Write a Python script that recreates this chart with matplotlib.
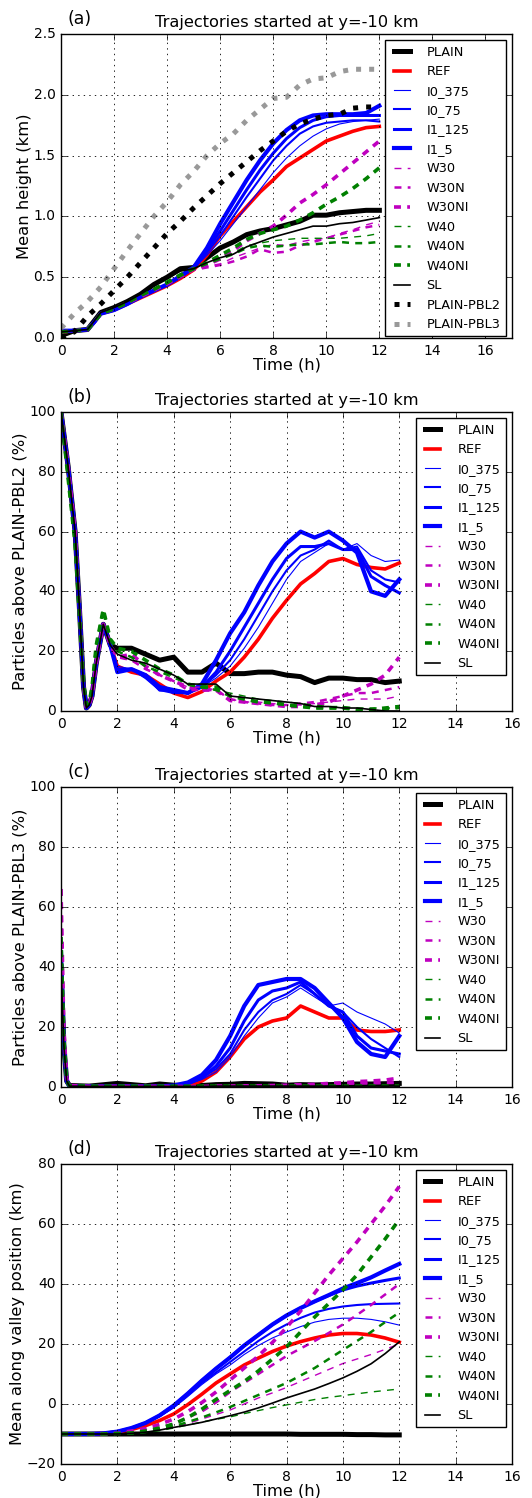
import matplotlib
matplotlib.use('Agg')
import matplotlib.pyplot as plt
import numpy as np

plt.style.use('classic')
plt.rcParams['font.family'] = 'DejaVu Sans'

names = ['PLAIN', 'REF', 'I0_375', 'I0_75', 'I1_125', 'I1_5',
         'W30', 'W30N', 'W30NI', 'W40', 'W40N', 'W40NI', 'SL']

# ---- panel (a): mean height (km)
a_t = [0, 0.5, 1, 1.25, 1.5] + list(np.arange(2, 12.01, 0.5))
a_vals = {
    'PLAIN':  [0.02, 0.06, 0.07, 0.14, 0.21, 0.25, 0.30, 0.36, 0.44, 0.50, 0.57, 0.58, 0.66, 0.74, 0.79, 0.85, 0.88, 0.90, 0.93, 0.96, 1.01, 1.01, 1.03, 1.04, 1.05, 1.05],
    'REF':    [0.05, 0.06, 0.07, 0.13, 0.20, 0.23, 0.28, 0.33, 0.38, 0.43, 0.49, 0.56, 0.68, 0.84, 0.96, 1.08, 1.20, 1.30, 1.41, 1.48, 1.55, 1.62, 1.66, 1.70, 1.73, 1.74],
    'I0_375': [0.05, 0.06, 0.07, 0.13, 0.20, 0.23, 0.28, 0.33, 0.39, 0.43, 0.50, 0.57, 0.68, 0.80, 0.94, 1.08, 1.22, 1.36, 1.48, 1.58, 1.66, 1.72, 1.76, 1.78, 1.79, 1.80],
    'I0_75':  [0.05, 0.06, 0.07, 0.13, 0.20, 0.23, 0.28, 0.33, 0.39, 0.43, 0.50, 0.57, 0.70, 0.84, 1.00, 1.16, 1.31, 1.46, 1.58, 1.68, 1.74, 1.77, 1.78, 1.79, 1.79, 1.78],
    'I1_125': [0.06, 0.06, 0.07, 0.13, 0.20, 0.23, 0.28, 0.34, 0.39, 0.44, 0.50, 0.58, 0.72, 0.88, 1.05, 1.22, 1.38, 1.52, 1.64, 1.73, 1.79, 1.82, 1.83, 1.83, 1.83, 1.83],
    'I1_5':   [0.06, 0.06, 0.07, 0.13, 0.20, 0.23, 0.28, 0.34, 0.39, 0.44, 0.51, 0.58, 0.74, 0.94, 1.12, 1.30, 1.46, 1.60, 1.71, 1.79, 1.83, 1.84, 1.84, 1.84, 1.85, 1.91],
    'W30':    [0.05, 0.06, 0.07, 0.13, 0.20, 0.24, 0.29, 0.34, 0.39, 0.44, 0.50, 0.56, 0.59, 0.61, 0.66, 0.70, 0.74, 0.77, 0.76, 0.79, 0.81, 0.82, 0.86, 0.89, 0.93, 0.96],
    'W30N':   [0.05, 0.06, 0.07, 0.13, 0.20, 0.24, 0.29, 0.34, 0.39, 0.44, 0.50, 0.56, 0.58, 0.60, 0.63, 0.67, 0.73, 0.70, 0.71, 0.76, 0.79, 0.82, 0.85, 0.88, 0.91, 0.93],
    'W30NI':  [0.05, 0.06, 0.07, 0.13, 0.20, 0.24, 0.29, 0.34, 0.40, 0.45, 0.51, 0.57, 0.60, 0.65, 0.72, 0.80, 0.86, 0.92, 1.01, 1.11, 1.18, 1.26, 1.35, 1.44, 1.53, 1.62],
    'W40':    [0.05, 0.06, 0.07, 0.13, 0.20, 0.24, 0.29, 0.35, 0.40, 0.45, 0.51, 0.57, 0.62, 0.66, 0.70, 0.76, 0.78, 0.80, 0.81, 0.82, 0.82, 0.82, 0.82, 0.83, 0.84, 0.86],
    'W40N':   [0.05, 0.06, 0.07, 0.13, 0.20, 0.24, 0.29, 0.35, 0.40, 0.45, 0.51, 0.57, 0.61, 0.65, 0.69, 0.74, 0.76, 0.75, 0.76, 0.77, 0.77, 0.78, 0.79, 0.78, 0.78, 0.79],
    'W40NI':  [0.05, 0.06, 0.07, 0.13, 0.20, 0.24, 0.29, 0.35, 0.40, 0.46, 0.52, 0.57, 0.62, 0.68, 0.74, 0.81, 0.86, 0.89, 0.92, 0.97, 1.03, 1.10, 1.16, 1.23, 1.31, 1.40],
    'SL':     [0.05, 0.06, 0.07, 0.14, 0.21, 0.25, 0.30, 0.36, 0.43, 0.49, 0.55, 0.57, 0.62, 0.66, 0.69, 0.75, 0.79, 0.83, 0.86, 0.89, 0.92, 0.92, 0.94, 0.95, 0.97, 0.99],
    'PLAIN-PBL2': [0.00, 0.05, 0.18, 0.23, 0.28, 0.39, 0.50, 0.62, 0.74, 0.86, 0.96, 1.07, 1.17, 1.27, 1.36, 1.45, 1.54, 1.62, 1.70, 1.76, 1.80, 1.83, 1.84, 1.89, 1.90, 1.90],
    'PLAIN-PBL3': [0.08, 0.20, 0.30, 0.36, 0.42, 0.57, 0.72, 0.86, 1.00, 1.12, 1.26, 1.37, 1.50, 1.60, 1.68, 1.79, 1.88, 1.97, 1.98, 2.08, 2.13, 2.14, 2.19, 2.21, 2.21, 2.21],
}

# ---- panel (b): particles above PLAIN-PBL2 (%)
b_t_early = [0, 0.25, 0.5, 0.65, 0.8, 0.9, 1.0, 1.1, 1.25, 1.5, 1.75]
b_early = [100, 82, 60, 35, 8, 1, 2, 5, 16, 29, 22]
b_early_green = [100, 78, 56, 33, 9, 2, 3, 8, 22, 34, 24]
b_t_late = list(np.arange(2, 12.01, 0.5))
b_late = {
    'PLAIN':  [21, 21, 19, 17, 18, 13, 13, 16, 12.5, 12.5, 13, 13, 12, 11.5, 9.5, 11, 11, 10.5, 10.5, 9.5, 10],
    'REF':    [15, 13, 12, 9, 6, 4.5, 6.5, 10, 13, 18, 24, 31, 37, 42.5, 46, 50, 51, 49, 48, 47.5, 49.5],
    'I0_375': [15, 14, 11, 7, 7, 6, 8, 11, 15, 21, 28, 36, 44, 50, 53, 56, 54, 56, 52, 50, 50.5],
    'I0_75':  [14, 14, 11, 7, 6, 6, 8, 12, 17, 24, 32, 40, 47, 52, 54, 57, 54, 55, 47, 44, 43],
    'I1_125': [14, 14, 12, 7, 7, 6, 8, 13, 20, 28, 36, 44, 51, 55, 55, 56, 54, 54, 45, 42, 39.5],
    'I1_5':   [13, 14, 12, 8, 7, 6, 9, 17, 26, 33, 42, 50, 56, 60, 58, 60, 57, 53, 40, 38.5, 44],
    'W30':    [18, 17, 14, 12, 10, 8, 8, 7, 4, 3, 3, 2.5, 2, 2, 2.5, 3, 3.5, 4, 4, 4, 5],
    'W30N':   [18, 17, 14, 12, 10, 7, 7, 7, 4, 3, 2.5, 2, 2, 2.5, 3, 4, 5, 6, 6, 7, 8],
    'W30NI':  [18, 19, 15, 12, 10, 8, 7, 7, 3.5, 3, 2.5, 2, 1.5, 1.5, 2, 3, 5, 7, 9, 12, 18],
    'W40':    [20, 18, 15, 13, 11, 9, 9, 7, 6, 5, 4, 3.5, 3, 2.5, 2, 1.5, 1.5, 1, 1, 1, 1],
    'W40N':   [20, 18, 15, 13, 12, 9, 8, 7, 5, 4, 3, 2.5, 2, 1.5, 1, 1, 1, 0.5, 0.5, 0.5, 1],
    'W40NI':  [21, 20, 17, 14, 12, 9, 8, 8, 5, 4, 3, 3, 2, 1.5, 1, 1, 1, 0.5, 0.5, 1, 1.5],
    'SL':     [19, 17, 16, 14, 12, 9, 9, 9, 5, 4.5, 4, 3.5, 3, 2.5, 1.5, 1.5, 1, 1, 0.5, 0, 0],
}

# ---- panel (c): particles above PLAIN-PBL3 (%)
c_t = [0, 0.1, 0.2, 0.3, 1, 2, 3, 3.5] + list(np.arange(4, 12.01, 0.5))
c_vals = {
    'PLAIN':  [40, 14, 2, 0.5, 0.3, 1.2, 0.4, 1.0, 0.6, 0.5, 0.5, 0.8, 0.9, 1.2, 1.1, 1.0, 0.6, 0.8, 0.7, 0.8, 0.9, 1.0, 1.0, 1.1, 1.2],
    'REF':    [45, 15, 2, 0.3, 0.2, 0.2, 0.2, 0.2, 0.2, 0.5, 2, 5, 10, 16, 20, 22, 23, 27, 25, 23, 23, 19, 18.5, 18.5, 19],
    'I0_375': [45, 15, 2, 0.3, 0.2, 0.2, 0.2, 0.2, 0.3, 1, 2.5, 5, 10, 17, 23, 28, 30, 33, 30, 27, 28, 25, 23, 21, 18],
    'I0_75':  [45, 15, 2, 0.3, 0.2, 0.2, 0.2, 0.2, 0.3, 1, 3, 6, 11, 19, 25, 29, 31, 34, 31, 27, 25, 20, 16, 13, 10],
    'I1_125': [45, 15, 2, 0.3, 0.2, 0.2, 0.2, 0.2, 0.5, 1, 3, 7, 13, 22, 29, 32, 33, 35, 31, 27, 25, 17, 13, 12, 11],
    'I1_5':   [45, 15, 2, 0.3, 0.2, 0.2, 0.2, 0.2, 0.5, 1.5, 4, 9, 17, 27, 34, 35, 36, 36, 33, 28, 23, 15, 11, 10, 17],
    'W30':    [66, 20, 3, 0.5, 0.2, 0.2, 0.2, 0.2, 0.2, 0.2, 0.2, 0.3, 0.3, 0.4, 0.5, 0.5, 0.6, 0.6, 0.7, 0.8, 0.9, 1.0, 1.0, 1.1, 1.2],
    'W30N':   [66, 20, 3, 0.5, 0.2, 0.2, 0.2, 0.2, 0.2, 0.2, 0.2, 0.3, 0.3, 0.4, 0.5, 0.5, 0.6, 0.7, 0.8, 1.0, 1.1, 1.3, 1.4, 1.5, 1.6],
    'W30NI':  [66, 20, 3, 0.5, 0.2, 0.2, 0.2, 0.2, 0.2, 0.2, 0.2, 0.3, 0.3, 0.4, 0.4, 0.5, 0.6, 0.8, 0.9, 1.2, 1.4, 1.8, 2.0, 2.3, 3.0],
    'W40':    [50, 16, 2, 0.4, 0.2, 0.2, 0.2, 0.2, 0.2, 0.2, 0.2, 0.2, 0.2, 0.2, 0.2, 0.2, 0.2, 0.2, 0.2, 0.2, 0.2, 0.2, 0.2, 0.2, 0.2],
    'W40N':   [50, 16, 2, 0.4, 0.2, 0.2, 0.2, 0.2, 0.2, 0.2, 0.2, 0.2, 0.2, 0.2, 0.2, 0.2, 0.2, 0.2, 0.2, 0.2, 0.2, 0.2, 0.2, 0.2, 0.2],
    'W40NI':  [50, 16, 2, 0.4, 0.3, 0.3, 0.3, 0.3, 0.3, 0.3, 0.3, 0.3, 0.3, 0.3, 0.3, 0.3, 0.3, 0.3, 0.3, 0.3, 0.3, 0.3, 0.3, 0.3, 0.3],
    'SL':     [40, 14, 2, 0.3, 0.2, 0.2, 0.2, 0.2, 0.2, 0.2, 0.2, 0.3, 0.3, 0.3, 0.3, 0.3, 0.3, 0.3, 0.3, 0.3, 0.3, 0.3, 0.3, 0.3, 0.3],
}

# ---- panel (d): mean along valley position (km)
d_t = list(np.arange(0, 12.01, 0.5))
d_vals = {
    'PLAIN':  [-10, -10, -10, -10, -10, -10, -10, -10, -10, -10, -10, -10, -10, -10, -10, -10, -10, -10.1, -10.1, -10.1, -10.1, -10.2, -10.2, -10.3, -10.3],
    'REF':    [-10, -10, -10, -9.8, -9.3, -8.5, -7.2, -5.5, -3.3, -0.2, 3.3, 7, 10, 13, 15.3, 17.5, 19.3, 20.8, 22, 23, 23.5, 23.5, 23, 22, 20.6],
    'I0_375': [-10, -10, -10, -9.8, -9.2, -8.2, -6.5, -4.2, -1.3, 2.5, 6.5, 10, 13, 16.5, 19.5, 22, 24, 25.8, 27.3, 28.2, 28.6, 28.6, 28.2, 27.4, 26.3],
    'I0_75':  [-10, -10, -10, -9.8, -9.2, -8.1, -6.4, -4, -1, 3, 7, 10.5, 14, 17.5, 21, 24, 26.5, 28.7, 30.5, 31.7, 32.5, 33, 33.3, 33.4, 33.5],
    'I1_125': [-10, -10, -10, -9.8, -9.2, -8, -6.3, -3.8, -0.5, 3.5, 7.8, 11.8, 15.5, 19.5, 23, 26.5, 29.5, 32, 34.2, 36.2, 38, 39.3, 40.3, 41.2, 42],
    'I1_5':   [-10, -10, -10, -9.8, -9.2, -8, -6.3, -3.8, -0.5, 3.5, 7.8, 11.8, 15.5, 19.5, 23, 26.5, 29.5, 32, 34.2, 36.3, 38.5, 40.3, 42.2, 44.5, 46.7],
    'W30':    [-10, -10, -10, -10, -9.8, -9.6, -9.3, -8.7, -7.8, -6.5, -5, -3.5, -2, 0, 2, 3.7, 5.5, 7.5, 9.5, 11.5, 13.5, 15, 16.5, 18.2, 20],
    'W30N':   [-10, -10, -10, -10, -9.8, -9.5, -9, -8, -6.5, -4.5, -2.5, 0.5, 4, 7, 10, 13, 16, 18.5, 21, 23.7, 26.5, 29.7, 33, 36.5, 40],
    'W30NI':  [-10, -10, -10, -10, -9.7, -9, -8.2, -6.8, -5, -2.5, 0.5, 4, 8, 12, 16, 20.5, 25.5, 31, 37, 43, 48.5, 54, 60, 66, 72.5],
    'W40':    [-10, -10, -10, -10, -10, -9.8, -9.5, -8.9, -8, -7, -6, -5.1, -4.3, -3.2, -2.2, -1.2, -0.3, 0.6, 1.5, 2.2, 2.8, 3.4, 4, 4.5, 5],
    'W40N':   [-10, -10, -10, -10, -9.8, -9.6, -9.3, -8.5, -7.5, -6, -4.5, -2.8, -1, 1, 3, 5, 7, 9.5, 12, 15, 18, 21, 24, 27.3, 30.5],
    'W40NI':  [-10, -10, -10, -10, -9.8, -9.7, -9, -8, -6.7, -4.5, -1.7, 1.5, 4.5, 7.5, 11, 15, 19, 24, 29, 33.5, 38, 43, 49, 55, 61.5],
    'SL':     [-10, -10, -10, -10, -10, -9.8, -9.4, -8.7, -7.8, -7, -6.1, -5, -3.9, -2.7, -1.3, 0.3, 2, 3.5, 5, 6.8, 8.7, 10.9, 13.4, 16.8, 20.7],
}

dash = (5, 4.5)
dots = (3.6, 5.8)
styles = {
    'PLAIN':  dict(color='k', lw=3.6),
    'REF':    dict(color='r', lw=2.6),
    'I0_375': dict(color='b', lw=0.8),
    'I0_75':  dict(color='b', lw=1.5),
    'I1_125': dict(color='b', lw=2.2),
    'I1_5':   dict(color='b', lw=3.0),
    'W30':    dict(color='m', lw=1.0, dashes=dash),
    'W30N':   dict(color='m', lw=1.8, dashes=dash),
    'W30NI':  dict(color='m', lw=2.6, dashes=dash),
    'W40':    dict(color='g', lw=1.0, dashes=dash),
    'W40N':   dict(color='g', lw=1.8, dashes=dash),
    'W40NI':  dict(color='g', lw=2.6, dashes=dash),
    'SL':     dict(color='k', lw=1.2),
    'PLAIN-PBL2': dict(color='k', lw=3.6, dashes=dots),
    'PLAIN-PBL3': dict(color='0.6', lw=3.6, dashes=dots),
}

fig = plt.figure(figsize=(5.32, 14.98), dpi=100, facecolor='white')
W, H = 532.0, 1498.0


def make_axes(top, bottom):
    return fig.add_axes([61 / W, (H - bottom) / H, 451 / W, (bottom - top) / H])


def finish(ax, letter, ylabel):
    ax.set_title('Trajectories started at y=-10 km', fontsize=11.7)
    ax.text(0.015, 1.02, letter, transform=ax.transAxes, fontsize=12.4, va='bottom')
    ax.set_xlabel('Time (h)', fontsize=11.7, labelpad=0)
    ax.set_ylabel(ylabel, fontsize=11.8, labelpad=1)
    ax.tick_params(labelsize=10)
    ax.grid(True, color='k', linestyle=':', linewidth=0.6)
    ax.set_xticks(range(0, 17, 2))
    leg = ax.legend(loc='upper right', fontsize=9.3, handlelength=1.8,
                    handletextpad=1.0, labelspacing=0.5, borderaxespad=0.5,
                    fancybox=False, numpoints=2)
    leg.get_frame().set_linewidth(1.0)


# (a)
ax = make_axes(34, 338)
for n in names + ['PLAIN-PBL2', 'PLAIN-PBL3']:
    ax.plot(a_t, a_vals[n], label=n, **styles[n])
ax.set_xlim(0, 17)
ax.set_ylim(0, 2.5)
finish(ax, '(a)', 'Mean height (km)')

# (b)
ax = make_axes(412, 711)
for n in names:
    early = b_early_green if n.startswith('W40') else b_early
    ax.plot(b_t_early + b_t_late, early + b_late[n], label=n, **styles[n])
ax.set_xlim(0, 16)
ax.set_ylim(0, 100)
finish(ax, '(b)', 'Particles above PLAIN-PBL2 (%)')

# (c)
ax = make_axes(787, 1087)
for n in names:
    ax.plot(c_t, c_vals[n], label=n, **styles[n])
ax.set_xlim(0, 16)
ax.set_ylim(0, 100)
finish(ax, '(c)', 'Particles above PLAIN-PBL3 (%)')

# (d)
ax = make_axes(1164, 1464)
for n in names:
    ax.plot(d_t, d_vals[n], label=n, **styles[n])
ax.set_xlim(0, 16)
ax.set_ylim(-20, 80)
finish(ax, '(d)', 'Mean along valley position (km)')

fig.savefig('out.png', dpi=100, facecolor='white')
